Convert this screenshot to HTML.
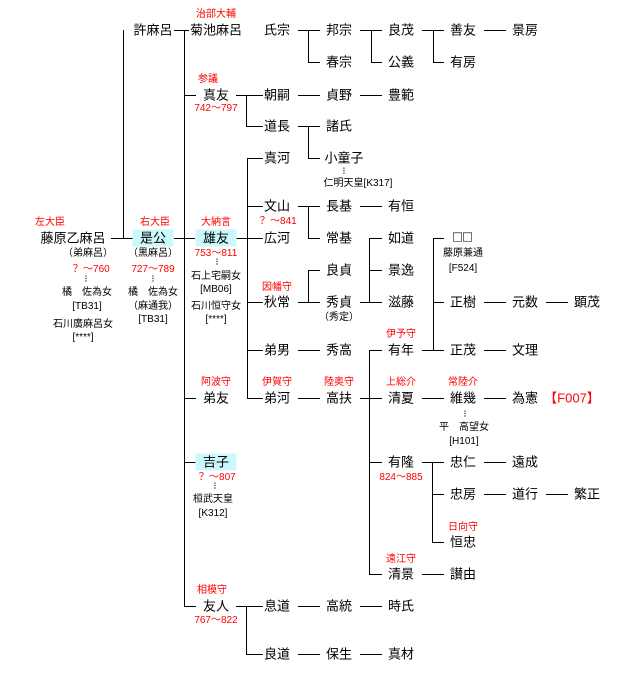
<!DOCTYPE html>
<html><head><meta charset="utf-8"><style>
body{margin:0;background:#fff;width:617px;height:678px;position:relative;overflow:hidden;font-family:"Liberation Sans","Noto Sans CJK JP",sans-serif;}
.t{position:absolute;transform:translate(-50%,-50%);white-space:nowrap;font-size:13px;line-height:1;color:#000}
.s{font-size:10px}
.r{color:#f00;font-size:10px}
.b{background:#ccf8fc;width:41px;height:17px;display:flex;align-items:center;justify-content:center}
svg{position:absolute;left:0;top:0}
</style></head><body>
<svg width="617" height="678" shape-rendering="crispEdges" stroke="#000" stroke-width="1" fill="none">
<path d="M111 238.5H133M123.5 30V238M174 30.5H189M184.5 30V606M184 95.5H196M184 398.5H196M184 462.5H196M184 606.5H196M174 238.5H195"/>
<path d="M236 95.5H263M246.5 95V126M246 126.5H263"/>
<path d="M247.5 158V398M247 158.5H263M247 206.5H263M247 302.5H263M247 350.5H263M247 398.5H263M236 238.5H263"/>
<path d="M236 606.5H263M246.5 606V654M246 654.5H263"/>
<path d="M298 30.5H320M308.5 30V62M308 62.5H320"/>
<path d="M298 95.5H320M360 95.5H382"/>
<path d="M298 126.5H320M308.5 126V158M308 158.5H320"/>
<path d="M298 206.5H320M308.5 206V238M308 238.5H320M360 206.5H382"/>
<path d="M298 302.5H320M308.5 270V302M308 270.5H320"/>
<path d="M298 350.5H320M298 398.5H320"/>
<path d="M360 30.5H382M371.5 30V62M371 62.5H382"/>
<path d="M360 302.5H382M369.5 238V302M369 238.5H382M369 270.5H382"/>
<path d="M360 398.5H382M369.5 350V574M369 350.5H382M369 462.5H382M369 574.5H382"/>
<path d="M422 30.5H444M433.5 30V62M433 62.5H444"/>
<path d="M422 350.5H444M433.5 238V350M433 238.5H444M433 302.5H444"/>
<path d="M422 398.5H444M422 462.5H444M432.5 462V542M432 494.5H444M432 542.5H444M422 574.5H444"/>
<path d="M484 30.5H506M484 302.5H506M546 302.5H568M484 350.5H506M484 398.5H506M484 462.5H506M484 494.5H506M546 494.5H568"/>
<path d="M298 606.5H320M360 606.5H382M298 654.5H320M360 654.5H382"/>
</svg>

<div class="t r" style="left:50px;top:223px">左大臣</div>
<div class="t" style="left:73px;top:238px">藤原乙麻呂</div>
<div class="t s" style="left:88px;top:254px">（弟麻呂）</div>
<div class="t r" style="left:90px;top:270px">？ ～760</div>
<div class="t s" style="left:86px;top:280px">⁝</div>
<div class="t s" style="left:87px;top:293px">橘　佐為女</div>
<div class="t s" style="left:87px;top:307px">[TB31]</div>
<div class="t s" style="left:83px;top:325px">石川廣麻呂女</div>
<div class="t s" style="left:83px;top:338px">[****]</div>

<div class="t" style="left:153px;top:30px">許麻呂</div>
<div class="t r" style="left:155px;top:223px">右大臣</div>
<div class="t b" style="left:153px;top:238px">是公</div>
<div class="t s" style="left:153px;top:254px">（黒麻呂）</div>
<div class="t r" style="left:153px;top:270px">727～789</div>
<div class="t s" style="left:153px;top:280px">⁝</div>
<div class="t s" style="left:153px;top:293px">橘　佐為女</div>
<div class="t s" style="left:153px;top:307px">（麻通我）</div>
<div class="t s" style="left:153px;top:320px">[TB31]</div>

<div class="t r" style="left:216px;top:15px">治部大輔</div>
<div class="t" style="left:216px;top:30px">菊池麻呂</div>
<div class="t r" style="left:208px;top:80px">参議</div>
<div class="t" style="left:216px;top:95px">真友</div>
<div class="t r" style="left:216px;top:109px">742～797</div>
<div class="t r" style="left:216px;top:223px">大納言</div>
<div class="t b" style="left:216px;top:238px">雄友</div>
<div class="t r" style="left:216px;top:254px">753～811</div>
<div class="t s" style="left:217px;top:263px">⁝</div>
<div class="t s" style="left:216px;top:277px">石上宅嗣女</div>
<div class="t s" style="left:216px;top:290px">[MB06]</div>
<div class="t s" style="left:216px;top:307px">石川恒守女</div>
<div class="t s" style="left:216px;top:320px">[****]</div>
<div class="t r" style="left:216px;top:383px">阿波守</div>
<div class="t" style="left:216px;top:398px">弟友</div>
<div class="t b" style="left:216px;top:462px">吉子</div>
<div class="t r" style="left:216px;top:478px">？ ～807</div>
<div class="t s" style="left:215px;top:487px">⁝</div>
<div class="t s" style="left:213px;top:500px">桓武天皇</div>
<div class="t s" style="left:213px;top:514px">[K312]</div>
<div class="t r" style="left:212px;top:591px">相模守</div>
<div class="t" style="left:216px;top:606px">友人</div>
<div class="t r" style="left:216px;top:621px">767～822</div>

<div class="t" style="left:277px;top:30px">氏宗</div>
<div class="t" style="left:277px;top:95px">朝嗣</div>
<div class="t" style="left:277px;top:126px">道長</div>
<div class="t" style="left:277px;top:158px">真河</div>
<div class="t" style="left:277px;top:206px">文山</div>
<div class="t r" style="left:277px;top:222px">？ ～841</div>
<div class="t" style="left:277px;top:238px">広河</div>
<div class="t r" style="left:277px;top:288px">因幡守</div>
<div class="t" style="left:277px;top:302px">秋常</div>
<div class="t" style="left:277px;top:350px">弟男</div>
<div class="t r" style="left:277px;top:383px">伊賀守</div>
<div class="t" style="left:277px;top:398px">弟河</div>
<div class="t" style="left:277px;top:606px">息道</div>
<div class="t" style="left:277px;top:654px">良道</div>

<div class="t" style="left:339px;top:30px">邦宗</div>
<div class="t" style="left:339px;top:62px">春宗</div>
<div class="t" style="left:339px;top:95px">貞野</div>
<div class="t" style="left:339px;top:126px">諸氏</div>
<div class="t" style="left:344px;top:158px">小童子</div>
<div class="t s" style="left:344px;top:172px">⁝</div>
<div class="t s" style="left:358px;top:184px">仁明天皇[K317]</div>
<div class="t" style="left:339px;top:206px">長基</div>
<div class="t" style="left:339px;top:238px">常基</div>
<div class="t" style="left:339px;top:270px">良貞</div>
<div class="t" style="left:339px;top:302px">秀貞</div>
<div class="t s" style="left:339px;top:318px">（秀定）</div>
<div class="t" style="left:339px;top:350px">秀高</div>
<div class="t r" style="left:339px;top:383px">陸奥守</div>
<div class="t" style="left:339px;top:398px">高扶</div>
<div class="t" style="left:339px;top:606px">高統</div>
<div class="t" style="left:339px;top:654px">保生</div>

<div class="t" style="left:401px;top:30px">良茂</div>
<div class="t" style="left:401px;top:62px">公義</div>
<div class="t" style="left:401px;top:95px">豊範</div>
<div class="t" style="left:401px;top:206px">有恒</div>
<div class="t" style="left:401px;top:238px">如道</div>
<div class="t" style="left:401px;top:270px">景逸</div>
<div class="t" style="left:401px;top:302px">滋藤</div>
<div class="t r" style="left:401px;top:335px">伊予守</div>
<div class="t" style="left:401px;top:350px">有年</div>
<div class="t r" style="left:401px;top:383px">上総介</div>
<div class="t" style="left:401px;top:398px">清夏</div>
<div class="t" style="left:401px;top:462px">有隆</div>
<div class="t r" style="left:401px;top:478px">824～885</div>
<div class="t r" style="left:401px;top:560px">遠江守</div>
<div class="t" style="left:401px;top:574px">清景</div>
<div class="t" style="left:401px;top:606px">時氏</div>
<div class="t" style="left:401px;top:654px">真材</div>

<div class="t" style="left:463px;top:30px">善友</div>
<div class="t" style="left:463px;top:62px">有房</div>
<div class="t" style="left:463px;top:237px;font-size:15px;letter-spacing:1px">□□</div>
<div class="t s" style="left:463px;top:254px">藤原兼通</div>
<div class="t s" style="left:463px;top:269px">[F524]</div>
<div class="t" style="left:463px;top:302px">正樹</div>
<div class="t" style="left:463px;top:350px">正茂</div>
<div class="t r" style="left:463px;top:383px">常陸介</div>
<div class="t" style="left:463px;top:398px">維幾</div>
<div class="t s" style="left:465px;top:415px">⁝</div>
<div class="t s" style="left:464px;top:428px">平　高望女</div>
<div class="t s" style="left:464px;top:442px">[H101]</div>
<div class="t" style="left:463px;top:462px">忠仁</div>
<div class="t" style="left:463px;top:494px">忠房</div>
<div class="t r" style="left:463px;top:528px">日向守</div>
<div class="t" style="left:463px;top:542px">恒忠</div>
<div class="t" style="left:463px;top:574px">讃由</div>

<div class="t" style="left:525px;top:30px">景房</div>
<div class="t" style="left:525px;top:302px">元数</div>
<div class="t" style="left:525px;top:350px">文理</div>
<div class="t" style="left:525px;top:398px">為憲</div>
<div class="t" style="left:572px;top:398px;color:#f00">【F007】</div>
<div class="t" style="left:525px;top:462px">遠成</div>
<div class="t" style="left:525px;top:494px">道行</div>

<div class="t" style="left:587px;top:302px">顕茂</div>
<div class="t" style="left:587px;top:494px">繁正</div>
</body></html>
